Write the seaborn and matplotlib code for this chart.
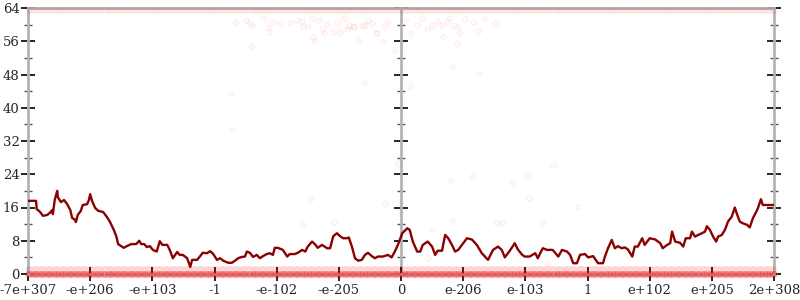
import numpy as np
import pandas as pd
import matplotlib
matplotlib.use("Agg")
import matplotlib.pyplot as plt
from matplotlib.ticker import MultipleLocator, NullFormatter
import seaborn as sns

# ---------------- data ----------------
tick_labels = ["-7e+307", "-e+206", "-e+103", "-1", "-e-102", "-e-205", "0",
               "e-206", "e-103", "1", "e+102", "e+205", "2e+308"]

line_x = [0, 0.13, 0.14, 0.19, 0.24, 0.31, 0.35, 0.39, 0.40, 0.43, 0.47, 0.48, 0.53, 0.58,
          0.63, 0.68, 0.71, 0.76, 0.77, 0.80, 0.85, 0.88, 0.95, 0.98, 1.00, 1.03, 1.08, 1.13,
          1.21, 1.27, 1.32, 1.38, 1.42, 1.45, 1.50, 1.54, 1.59, 1.66, 1.74, 1.79, 1.82, 1.87,
          1.91, 1.96, 2.01, 2.07, 2.12, 2.16, 2.24, 2.28, 2.33, 2.40, 2.44, 2.49, 2.56, 2.61,
          2.64, 2.72, 2.77, 2.81, 2.88, 2.93, 2.98, 3.04, 3.09, 3.14, 3.22, 3.28, 3.33, 3.38,
          3.44, 3.49, 3.52, 3.57, 3.62, 3.68, 3.73, 3.78, 3.84, 3.89, 3.94, 3.97, 4.02, 4.10,
          4.17, 4.21, 4.29, 4.34, 4.41, 4.46, 4.50, 4.57, 4.62, 4.66, 4.73, 4.81, 4.86, 4.91,
          4.97, 5.02, 5.07, 5.13, 5.16, 5.21, 5.26, 5.31, 5.37, 5.42, 5.47, 5.53, 5.58, 5.63,
          5.71, 5.79, 5.85, 5.90, 5.95, 6.02, 6.10, 6.14, 6.19, 6.26, 6.31, 6.35, 6.43, 6.50,
          6.55, 6.59, 6.66, 6.71, 6.76, 6.82, 6.87, 6.92, 6.98, 7.06, 7.14, 7.22, 7.30, 7.40,
          7.48, 7.56, 7.62, 7.67, 7.75, 7.83, 7.88, 7.95, 7.99, 8.07, 8.16, 8.20, 8.28, 8.35,
          8.44, 8.53, 8.59, 8.67, 8.72, 8.77, 8.83, 8.88, 8.96, 9.01, 9.09, 9.17, 9.25, 9.28,
          9.33, 9.39, 9.44, 9.49, 9.55, 9.60, 9.65, 9.72, 9.76, 9.81, 9.88, 9.92, 10.00, 10.09,
          10.17, 10.21, 10.28, 10.33, 10.36, 10.41, 10.49, 10.54, 10.58, 10.65, 10.68, 10.73,
          10.78, 10.84, 10.89, 10.92, 10.97, 11.02, 11.07, 11.10, 11.16, 11.21, 11.26, 11.32,
          11.37, 11.40, 11.45, 11.50, 11.57, 11.61, 11.66, 11.73, 11.74, 11.79, 11.82, 12.00]

line_y = [17.6, 17.6, 15.6, 15.0, 14.0, 14.2, 14.7, 15.4, 14.4, 17.8, 20.0, 18.5, 17.3, 17.8,
          16.8, 15.4, 13.5, 13.0, 12.5, 14.2, 15.2, 16.6, 16.8, 17.8, 19.2, 17.6, 15.9, 15.2,
          14.9, 13.7, 12.5, 10.6, 9.1, 7.2, 6.7, 6.3, 6.7, 7.2, 7.2, 8.0, 7.2, 7.2,
          6.5, 6.7, 5.8, 5.4, 7.9, 7.0, 7.0, 5.8, 3.8, 5.3, 4.6, 4.6, 3.8, 1.7,
          3.4, 3.4, 4.3, 5.1, 5.0, 5.5, 4.8, 3.4, 3.8, 3.2, 2.7, 2.7, 3.2, 3.8,
          4.1, 4.2, 5.4, 5.1, 4.1, 4.6, 3.8, 4.3, 4.8, 5.0, 4.6, 6.3, 6.3, 5.8,
          4.2, 4.8, 4.8, 5.1, 5.8, 5.4, 6.6, 7.8, 7.1, 6.3, 7.0, 6.2, 6.2, 9.1,
          9.8, 9.1, 8.6, 8.6, 8.8, 6.6, 3.8, 3.2, 3.4, 4.6, 5.1, 4.3, 3.8, 4.2,
          4.2, 4.6, 4.0, 5.4, 7.0, 9.8, 11.0, 10.6, 7.8, 5.4, 5.4, 7.0, 7.8, 6.6,
          4.6, 5.6, 5.6, 9.4, 8.6, 7.0, 5.4, 5.8, 7.0, 8.6, 8.3, 7.0, 5.0, 3.4,
          5.8, 6.6, 5.8, 4.0, 5.6, 7.4, 5.9, 4.6, 4.2, 4.2, 5.0, 3.8, 6.2, 5.8,
          5.8, 4.2, 5.8, 5.4, 4.6, 2.6, 2.6, 4.6, 4.8, 4.0, 4.3, 2.6, 2.6, 4.2,
          6.2, 8.2, 6.2, 6.7, 6.2, 6.4, 5.9, 4.2, 6.6, 6.6, 8.6, 7.0, 8.6, 8.3,
          7.4, 6.2, 7.0, 7.4, 10.2, 7.8, 7.5, 6.6, 8.6, 8.6, 10.2, 9.0,
          9.4, 9.8, 10.2, 11.5, 10.6, 9.0, 7.8, 9.0, 9.4, 10.6, 12.6, 13.8,
          16.0, 14.6, 12.6, 12.2, 11.8, 11.2, 13.4, 15.4, 15.8, 18.0, 16.6, 16.6]

# sparse outlier samples (x in tick units, error bits)
out_x = [3.33, 3.51, 3.57, 3.60, 3.78, 3.86, 3.88, 3.94, 4.05, 4.21, 4.33, 4.41, 4.42, 4.50,
         4.57, 4.58, 4.60, 4.68, 4.73, 4.76, 4.81, 4.91, 4.97, 5.02, 5.08, 5.13, 5.16, 5.23,
         5.31, 5.39, 5.47, 5.53, 5.61, 5.71, 5.73, 5.79, 5.89, 3.60, 3.27, 3.28, 5.40, 5.42,
         5.24, 5.60, 6.14, 6.06, 6.26, 6.34, 6.42, 6.50, 6.58, 6.66, 6.74, 6.79, 6.84, 6.92,
         6.95, 6.68, 6.90, 7.03, 7.16, 7.24, 7.35, 7.51, 6.82, 7.25, 6.14, 6.79, 7.14, 7.80,
         8.04, 8.44, 8.06, 6.84, 7.54, 7.62, 8.28, 8.85, 6.43, 8.35, 6.50, 4.54, 4.42, 4.92,
         5.74, 5.95]
out_y = [60.6, 61.1, 60.4, 59.7, 61.6, 59.4, 58.2, 60.6, 60.4, 60.4, 61.1, 60.9, 59.7, 59.7,
         61.6, 57.0, 56.1, 61.1, 59.0, 58.0, 60.2, 58.2, 60.4, 58.2, 61.6, 59.0, 59.7, 59.7,
         56.3, 59.7, 61.1, 60.4, 58.0, 55.8, 59.7, 60.9, 53.9, 54.9, 43.6, 34.6, 46.0, 59.9,
         59.4, 58.0, 58.0, 61.1, 59.9, 61.6, 59.0, 59.9, 60.9, 59.9, 60.9, 61.6, 59.9, 59.4,
         58.0, 57.0, 55.6, 61.4, 60.6, 58.5, 61.4, 60.4, 49.8, 48.1, 45.2, 22.4, 23.3, 21.9,
         23.6, 26.2, 18.3, 12.8, 12.3, 12.3, 12.5, 16.1, 3.8, 2.6, 10.8, 18.0, 11.8, 12.5,
         17.1, 26.5]

# dense sampled bands (error levels hit by most samples)
band_levels = [0.0, 1.2, 63.4]
band_alpha = [0.35, 0.10, 0.07]
sample_x = np.linspace(0, 12, 320)  # uniformly spread input samples

# ---------------- plotting ----------------
sns.set_style("white")
plt.rcParams["font.family"] = ["DejaVu Serif"]

fig = plt.figure(figsize=(8, 3), dpi=100)
ax = fig.add_axes([28 / 800, 26 / 300, 746 / 800, 266 / 300])

for lv, al in zip(band_levels, band_alpha):
    band_df = pd.DataFrame({"x": sample_x, "y": np.full(len(sample_x), lv)})
    sns.scatterplot(data=band_df, x="x", y="y", ax=ax, s=16, marker="o",
                    facecolor=(1, 0, 0, al * 0.3), edgecolor=(1, 0, 0, al), linewidth=0.7,
                    legend=False, zorder=3, clip_on=False)

out_df = pd.DataFrame({"x": out_x, "y": out_y})
sns.scatterplot(data=out_df, x="x", y="y", ax=ax, s=16, marker="o",
                facecolor=(1, 0, 0, 0.02), edgecolor=(1, 0, 0, 0.07), linewidth=0.7,
                legend=False, zorder=3)

line_df = pd.DataFrame({"x": line_x, "y": line_y})
sns.lineplot(data=line_df, x="x", y="y", ax=ax, color="#8b0000", linewidth=1.7,
             zorder=5, estimator=None, sort=False)

ax.set_xlim(0, 12)
ax.set_ylim(0, 64)
ax.set_xlabel("")
ax.set_ylabel("")

axis_gray = "#b4b4b4"
for side in ["left", "right", "top", "bottom"]:
    ax.spines[side].set_visible(True)
    ax.spines[side].set_color(axis_gray)
    ax.spines[side].set_linewidth(2)

ax.set_xticks(range(len(tick_labels)))
ax.set_xticklabels(tick_labels, fontsize=9.5)
ax.yaxis.set_major_locator(MultipleLocator(8))
ax.yaxis.set_minor_locator(MultipleLocator(4))
ax.tick_params(axis="y", which="major", direction="inout", length=10, width=1.2,
               color="black", labelsize=9.5, pad=1, right=True, left=True)
ax.tick_params(axis="y", which="minor", direction="inout", length=6, width=1,
               color="#555555", right=True, left=True)
ax.tick_params(axis="x", which="major", direction="inout", length=10, width=1.2,
               color="black", labelsize=9.5, pad=2, bottom=True)

mid = ax.secondary_yaxis(0.5)
for sp in mid.spines.values():
    sp.set_color(axis_gray)
    sp.set_linewidth(2)
mid.yaxis.set_major_locator(MultipleLocator(8))
mid.yaxis.set_minor_locator(MultipleLocator(4))
mid.yaxis.set_major_formatter(NullFormatter())
mid.yaxis.set_minor_formatter(NullFormatter())
mid.tick_params(which="major", direction="inout", length=10, width=1.2, color="black",
                labelleft=False, labelright=False)
mid.tick_params(which="minor", direction="inout", length=6, width=1, color="#555555",
                labelleft=False, labelright=False)

fig.savefig("out.png", dpi=100)
